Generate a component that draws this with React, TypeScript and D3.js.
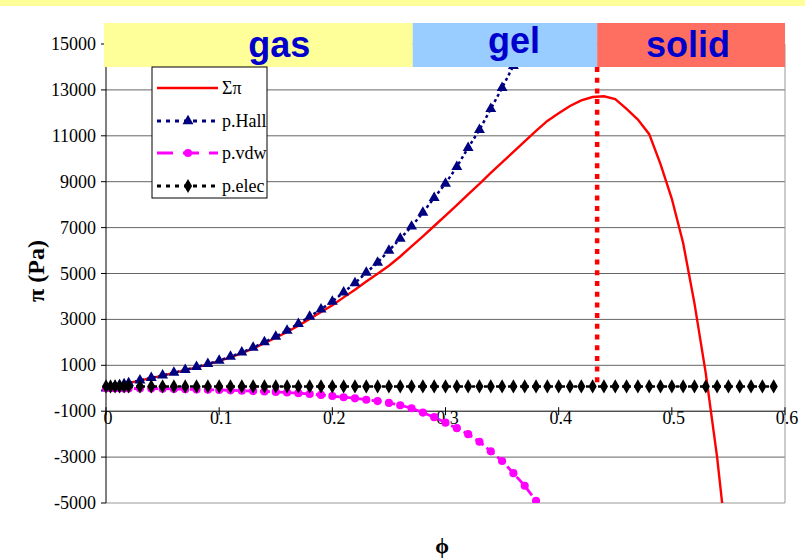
import React, { useEffect, useRef } from "react";
import * as d3 from "d3";

// volume fraction grid (fine steps near zero, then 0.01)
const phi = [
  0, 0.004, 0.008, 0.012, 0.016, 0.02, 0.03, 0.04, 0.05, 0.06, 0.07, 0.08, 0.09, 0.1,
  0.11, 0.12, 0.13, 0.14, 0.15, 0.16, 0.17, 0.18, 0.19, 0.2, 0.21, 0.22, 0.23, 0.24,
  0.25, 0.26, 0.27, 0.28, 0.29, 0.3, 0.31, 0.32, 0.33, 0.34, 0.35, 0.36, 0.37, 0.38,
  0.39, 0.4, 0.41, 0.42, 0.43, 0.44, 0.45, 0.46, 0.47, 0.48, 0.49, 0.5, 0.51, 0.52,
  0.53, 0.54, 0.55, 0.56, 0.57, 0.58, 0.59,
];

const sumPi = [
  0, 40, 85, 130, 175, 220, 340, 440, 550, 670, 790, 910, 1040, 1190, 1350, 1530, 1730,
  1960, 2200, 2450, 2730, 3020, 3320, 3620, 3960, 4290, 4650, 4990, 5340, 5740, 6180,
  6620, 7070, 7520, 7980, 8450, 8910, 9380, 9840, 10300, 10760, 11210, 11650, 11980,
  12300, 12540, 12690, 12720, 12600, 12170, 11710, 11070, 9770, 8255, 6330, 3700, 650,
  -3000, -7500,
];

const pHall = [
  0, 45, 90, 135, 180, 222, 340, 450, 560, 680, 800, 930, 1060, 1210, 1380, 1560, 1770,
  2010, 2250, 2510, 2810, 3120, 3440, 3780, 4180, 4580, 5040, 5480, 6000, 6520, 7050,
  7650, 8300, 8920, 9650, 10480, 11260, 12170, 13090, 14050, 15100,
];

const pVdw = [
  0, -1, -2, -4, -6, -8, -12, -16, -20, -30, -40, -50, -60, -75, -90, -105, -120, -140,
  -160, -185, -215, -250, -290, -340, -390, -440, -500, -560, -640, -740, -870, -1060,
  -1260, -1500, -1740, -2000, -2330, -2750, -3170, -3700, -4250, -4900, -5600,
];

const pElec = [
  80, 80, 80, 80, 80, 80, 80, 80, 80, 80, 80, 80, 80, 80, 80, 80, 80, 80, 80, 80, 80,
  80, 80, 80, 80, 80, 80, 80, 80, 80, 80, 80, 80, 80, 80, 80, 80, 80, 80, 80, 80, 80,
  80, 80, 80, 80, 80, 80, 80, 80, 80, 80, 80, 80, 80, 80, 80, 80, 80, 80, 80, 80, 80,
];

const yTicks = [-5000, -3000, -1000, 1000, 3000, 5000, 7000, 9000, 11000, 13000, 15000];
const xTicks = [0, 0.1, 0.2, 0.3, 0.4, 0.5, 0.6];
const xTickLabels = ["0", "0.1", "0.2", "0.3", "0.4", "0.5", "0.6"];

const phases = ["gas", "gel", "solid"];
const phaseEdges = [0, 0.271, 0.434, 0.6];
const phaseColors = ["#FFFF99", "#99CCFF", "#FF6F61"];
const solidOnset = 0.434;

const legendNames = ["Σπ", "p.Hall", "p.vdw", "p.elec"];

const serif = "'Liberation Serif', 'Times New Roman', serif";
const sans = "'Liberation Sans', Arial, sans-serif";

const App = () => {
  const ref = useRef<SVGSVGElement>(null);

  useEffect(() => {
    const svg = d3.select(ref.current);
    svg.selectAll("*").remove();

    const x = d3.scaleLinear().domain([0, 0.6]).range([106, 785]);
    const y = d3.scaleLinear().domain([-5000, 15000]).range([503, 44]);

    svg.append("rect").attr("width", 805).attr("height", 560).attr("fill", "white");
    // top stripe of the slide
    svg.append("rect").attr("width", 805).attr("height", 6).attr("fill", "#FFFF99");

    // gridlines
    svg
      .append("g")
      .selectAll("line")
      .data(yTicks.filter((t) => t !== -1000))
      .enter()
      .append("line")
      .attr("x1", x(0))
      .attr("x2", x(0.6))
      .attr("y1", (d) => y(d))
      .attr("y2", (d) => y(d))
      .attr("stroke", (d) => (d === -5000 ? "#999" : "#666"))
      .attr("stroke-width", 1);

    // right border
    svg
      .append("line")
      .attr("x1", x(0.6))
      .attr("x2", x(0.6))
      .attr("y1", y(15000))
      .attr("y2", y(-5000))
      .attr("stroke", "#999");

    // x axis crossing at -1000
    const xa = svg.append("g");
    xa.append("line")
      .attr("x1", x(0))
      .attr("x2", x(0.6))
      .attr("y1", y(-1000))
      .attr("y2", y(-1000))
      .attr("stroke", "black");
    xa.selectAll("line.tick")
      .data(xTicks)
      .enter()
      .append("line")
      .attr("class", "tick")
      .attr("x1", (d) => x(d))
      .attr("x2", (d) => x(d))
      .attr("y1", y(-1000) - 4)
      .attr("y2", y(-1000) + 4)
      .attr("stroke", "black");
    xa.selectAll("text")
      .data(xTicks)
      .enter()
      .append("text")
      .attr("x", (d) => x(d) + 2)
      .attr("y", y(-1000) + 13)
      .attr("text-anchor", "middle")
      .attr("font-family", serif)
      .attr("font-size", 18)
      .text((d, i) => xTickLabels[i]);

    // y axis
    const ya = svg.append("g");
    ya.append("line")
      .attr("x1", x(0))
      .attr("x2", x(0))
      .attr("y1", y(15000))
      .attr("y2", y(-5000))
      .attr("stroke", "black");
    ya.selectAll("line.tick")
      .data(yTicks)
      .enter()
      .append("line")
      .attr("class", "tick")
      .attr("x1", x(0) - 5)
      .attr("x2", x(0))
      .attr("y1", (d) => y(d))
      .attr("y2", (d) => y(d))
      .attr("stroke", "black");
    ya.selectAll("text")
      .data(yTicks)
      .enter()
      .append("text")
      .attr("x", x(0) - 10)
      .attr("y", (d) => y(d) + 6)
      .attr("text-anchor", "end")
      .attr("font-family", serif)
      .attr("font-size", 18)
      .text((d) => String(d));

    // axis titles
    svg
      .append("text")
      .attr("transform", "translate(44, 271) rotate(-90)")
      .attr("text-anchor", "middle")
      .attr("font-family", serif)
      .attr("font-weight", "bold")
      .attr("font-size", 24)
      .text("π (Pa)");
    svg
      .append("text")
      .attr("x", 442)
      .attr("y", 553)
      .attr("text-anchor", "middle")
      .attr("font-family", serif)
      .attr("font-weight", "bold")
      .attr("font-size", 22)
      .text("ϕ");

    // series
    svg
      .append("clipPath")
      .attr("id", "plot-clip")
      .append("rect")
      .attr("x", x(0) - 5)
      .attr("y", y(15000))
      .attr("width", x(0.6) - x(0) + 10)
      .attr("height", y(-5000) - y(15000));
    const plot = svg.append("g").attr("clip-path", "url(#plot-clip)");

    const series = [
      { values: sumPi, color: "#FF0000", width: 2.4, dash: null, symbol: null, size: 0 },
      { values: pHall, color: "#000080", width: 2.5, dash: "3,3", symbol: d3.symbolTriangle, size: 52 },
      { values: pVdw, color: "#FF00FF", width: 2.8, dash: "10,4", symbol: d3.symbolCircle, size: 52 },
      { values: pElec, color: "#000000", width: 2.5, dash: "3,3", symbol: d3.symbolDiamond, size: 58 },
    ];

    const line = d3
      .line<number>()
      .x((d, i) => x(phi[i]))
      .y((d) => y(d));

    series.forEach((s) => {
      let p = plot
        .append("path")
        .attr("d", line(s.values))
        .attr("fill", "none")
        .attr("stroke", s.color)
        .attr("stroke-width", s.width);
      if (s.dash) p.attr("stroke-dasharray", s.dash);
      if (s.symbol) {
        plot
          .append("g")
          .selectAll("path")
          .data(s.values)
          .enter()
          .append("path")
          .attr("transform", (d, i) => `translate(${x(phi[i])},${y(d)})`)
          .attr("d", d3.symbol().type(s.symbol).size(s.size)())
          .attr("fill", s.color);
      }
    });

    // phase band
    const band = svg.append("g");
    band
      .selectAll("rect")
      .data(phases)
      .enter()
      .append("rect")
      .attr("x", (d, i) => (i === 0 ? x(phaseEdges[i]) - 2 : x(phaseEdges[i])))
      .attr("y", 23)
      .attr("width", (d, i) => x(phaseEdges[i + 1]) - x(phaseEdges[i]) + (i === 0 ? 2 : 0))
      .attr("height", 44)
      .attr("fill", (d, i) => phaseColors[i]);
    const labelY = [57, 53, 57];
    const labelDx = [20, 9, -3];
    band
      .selectAll("text")
      .data(phases)
      .enter()
      .append("text")
      .attr("x", (d, i) => (x(phaseEdges[i]) + x(phaseEdges[i + 1])) / 2 + labelDx[i])
      .attr("y", (d, i) => labelY[i])
      .attr("text-anchor", "middle")
      .attr("font-family", sans)
      .attr("font-weight", "bold")
      .attr("font-size", 36)
      .attr("fill", "#0000CC")
      .text((d) => d);

    // solid onset marker
    svg
      .append("line")
      .attr("x1", x(solidOnset))
      .attr("x2", x(solidOnset))
      .attr("y1", 67)
      .attr("y2", y(200))
      .attr("stroke", "#FF0000")
      .attr("stroke-width", 4.5)
      .attr("stroke-dasharray", "5,5.7");

    // legend
    const lg = svg.append("g");
    lg.append("rect")
      .attr("x", 152)
      .attr("y", 67)
      .attr("width", 115)
      .attr("height", 131)
      .attr("fill", "white")
      .attr("stroke", "black");
    const rowY = [88, 121, 153, 186];
    series.forEach((s, i) => {
      const l = lg
        .append("line")
        .attr("x1", 157)
        .attr("x2", 218)
        .attr("y1", rowY[i])
        .attr("y2", rowY[i])
        .attr("stroke", s.color)
        .attr("stroke-width", i === 0 ? 2.4 : 3);
      if (s.dash) l.attr("stroke-dasharray", i === 2 ? "16,10" : "4,5");
      if (s.symbol) {
        lg.append("path")
          .attr("transform", `translate(188,${rowY[i]})`)
          .attr("d", d3.symbol().type(s.symbol).size(s.size)())
          .attr("fill", s.color);
      }
      lg.append("text")
        .attr("x", 222)
        .attr("y", rowY[i] + 6)
        .attr("font-family", serif)
        .attr("font-size", 18)
        .text(legendNames[i]);
    });
  }, []);

  return (
    <svg
      ref={ref}
      width={805}
      height={560}
      style={{ position: "absolute", left: 0, top: 0 }}
    />
  );
};

export default App;
